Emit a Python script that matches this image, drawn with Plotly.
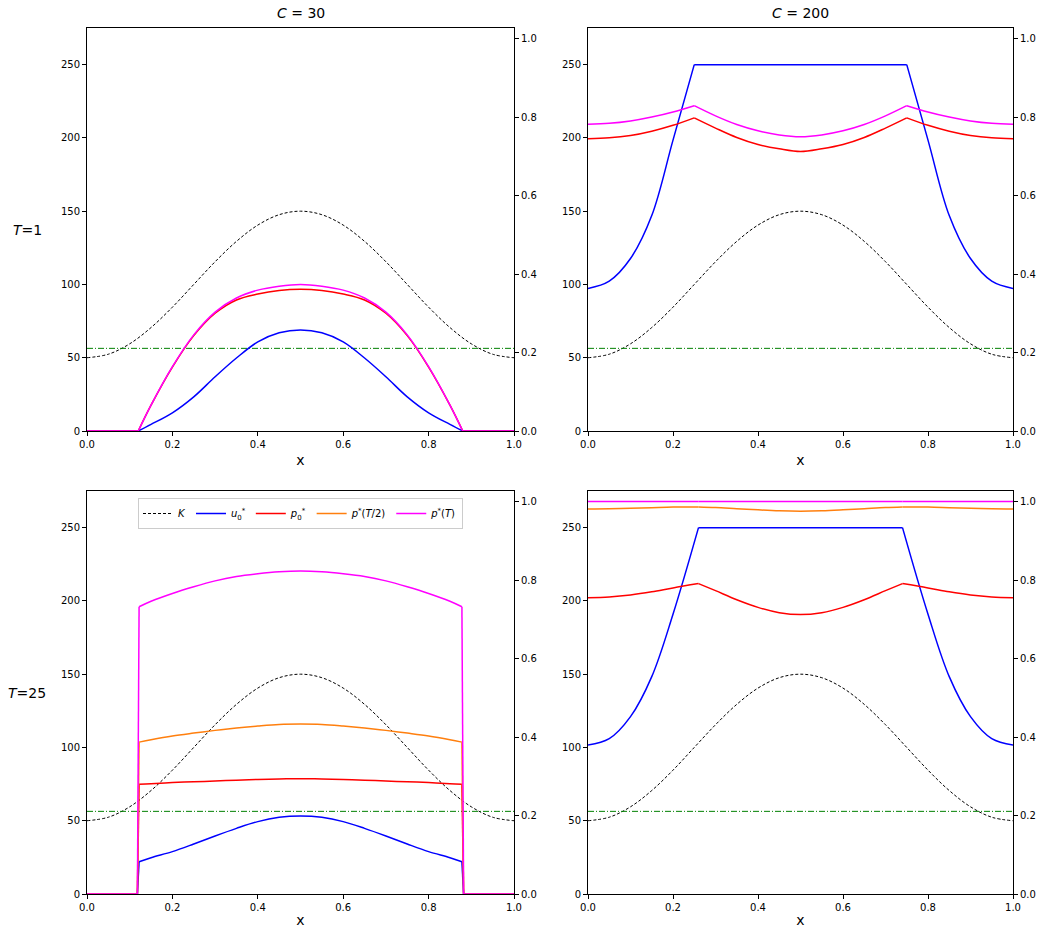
import plotly.graph_objects as go

# shared grid and the K profile
x_grid = [0.0, 0.05, 0.1, 0.15, 0.2, 0.25, 0.3, 0.35, 0.4, 0.45, 0.5,
          0.55, 0.6, 0.65, 0.7, 0.75, 0.8, 0.85, 0.9, 0.95, 1.0]
K = [50, 52.4, 59.5, 70.6, 84.5, 100, 115.5, 129.4, 140.5, 147.6, 150,
     147.6, 140.5, 129.4, 115.5, 100, 84.5, 70.6, 59.5, 52.4, 50]
threshold = 56.4

# C=30, T=1
x_c30_t1 = [0.0, 0.05, 0.1, 0.12, 0.15, 0.2, 0.25, 0.3, 0.35, 0.4, 0.45, 0.5,
            0.55, 0.6, 0.65, 0.7, 0.75, 0.8, 0.85, 0.88, 0.9, 0.95, 1.0]
u0_c30_t1 = [0, 0, 0, 0, 4.5, 12.4, 23.3, 37, 49.8, 60.8, 67, 69,
             67, 60.8, 49.8, 37, 23.3, 12.4, 4.5, 0, 0, 0, 0]
p0_c30_t1 = [0, 0, 0, 0, 0.066, 0.163, 0.243, 0.300, 0.334, 0.349, 0.358, 0.361,
             0.358, 0.349, 0.334, 0.300, 0.243, 0.163, 0.066, 0, 0, 0, 0]
pT_c30_t1 = [0, 0, 0, 0, 0.066, 0.164, 0.245, 0.303, 0.339, 0.359, 0.369, 0.3735,
             0.369, 0.359, 0.339, 0.303, 0.245, 0.164, 0.066, 0, 0, 0, 0]

# C=200, T=1 (on x_grid)
u0_c200_t1 = [97.3, 102.3, 117.7, 147, 198.5, 250, 250, 250, 250, 250, 250,
              250, 250, 250, 250, 250, 198.5, 147, 117.7, 102.3, 97.3]
p0_c200_t1 = [0.745, 0.747, 0.753, 0.764, 0.779, 0.798, 0.772, 0.748, 0.730, 0.719, 0.712,
              0.719, 0.730, 0.748, 0.772, 0.798, 0.779, 0.764, 0.753, 0.747, 0.745]
pT_c200_t1 = [0.782, 0.784, 0.790, 0.800, 0.813, 0.829, 0.803, 0.781, 0.765, 0.7545, 0.750,
              0.7545, 0.765, 0.781, 0.803, 0.829, 0.813, 0.800, 0.790, 0.784, 0.782]

# C=30, T=25
x_c30_t25 = [0.0, 0.05, 0.1, 0.118, 0.122, 0.15, 0.2, 0.25, 0.3, 0.35, 0.4, 0.45, 0.5,
             0.55, 0.6, 0.65, 0.7, 0.75, 0.8, 0.85, 0.878, 0.882, 0.9, 0.95, 1.0]
u0_c30_t25 = [0, 0, 0, 0, 22.0, 24.8, 28.9, 34.1, 39.6, 44.8, 49.4, 52.3, 53.2,
              52.3, 49.4, 44.8, 39.6, 34.1, 28.9, 24.8, 22.0, 0, 0, 0, 0]
p0_c30_t25 = [0, 0, 0, 0, 0.280, 0.281, 0.284, 0.286, 0.288, 0.290, 0.292, 0.293, 0.294,
              0.293, 0.292, 0.290, 0.288, 0.286, 0.284, 0.281, 0.280, 0, 0, 0, 0]
pH_c30_t25 = [0, 0, 0, 0, 0.387, 0.393, 0.4025, 0.410, 0.417, 0.423, 0.428, 0.432, 0.433,
              0.432, 0.428, 0.423, 0.417, 0.410, 0.4025, 0.393, 0.387, 0, 0, 0, 0]
pT_c30_t25 = [0, 0, 0, 0, 0.732, 0.746, 0.766, 0.783, 0.798, 0.809, 0.816, 0.821, 0.823,
              0.821, 0.816, 0.809, 0.798, 0.783, 0.766, 0.746, 0.732, 0, 0, 0, 0]

# C=200, T=25
x_c200_t25 = [0.0, 0.05, 0.1, 0.15, 0.2, 0.26, 0.3, 0.35, 0.4, 0.45, 0.5,
              0.55, 0.6, 0.65, 0.7, 0.74, 0.8, 0.85, 0.9, 0.95, 1.0]
u0_c200_t25 = [101.7, 106, 121, 148.3, 190.9, 250, 250, 250, 250, 250, 250,
               250, 250, 250, 250, 250, 190.9, 148.3, 121, 106, 101.7]
p0_c200_t25 = [0.755, 0.757, 0.762, 0.770, 0.780, 0.791, 0.773, 0.750, 0.7305, 0.717, 0.712,
               0.717, 0.7305, 0.750, 0.773, 0.791, 0.780, 0.770, 0.762, 0.757, 0.755]
pH_c200_t25 = [0.981, 0.9815, 0.983, 0.9845, 0.986, 0.9865, 0.985, 0.982, 0.979, 0.9765, 0.9755,
               0.9765, 0.979, 0.982, 0.985, 0.9865, 0.986, 0.9845, 0.983, 0.9815, 0.981]
pT_c200_t25 = [1.0] * 21

col_titles = ["<i>C</i> = 30", "<i>C</i> = 200"]
row_titles = ["<i>T</i>=1", "<i>T</i>=25"]

panels = [
    dict(x=x_c30_t1, kinks=[0.12, 0.88], u=u0_c30_t1, p0=p0_c30_t1, ph=None, pT=pT_c30_t1),
    dict(x=x_grid, kinks=[0.25, 0.75], u=u0_c200_t1, p0=p0_c200_t1, ph=None, pT=pT_c200_t1),
    dict(x=x_c30_t25, kinks=[0.118, 0.122, 0.878, 0.882], u=u0_c30_t25, p0=p0_c30_t25,
         ph=pH_c30_t25, pT=pT_c30_t25),
    dict(x=x_c200_t25, kinks=[0.26, 0.74], u=u0_c200_t25, p0=p0_c200_t25,
         ph=pH_c200_t25, pT=pT_c200_t25),
]

# the page body has an 8px margin, so the figure is a bit smaller and shifted
PAD = 8
W, H = 1044 - 2 * PAD, 936 - 2 * PAD


def px(X):
    return (X - PAD) / W


def py(Y):
    return 1 - (Y - PAD) / H


xdom = [(px(87), px(514)), (px(588), px(1013))]
ydom = [(py(431), py(28)), (py(894), py(491))]

font = "DejaVu Sans"
fig = go.Figure()
layout = {}


def add_series(x, y, kinks, xa, ya, color, name, width, dash, show, group):
    # smooth pieces between kink points, so corners stay sharp
    cuts = [0] + [i for i, v in enumerate(x) if v in kinks] + [len(x) - 1]
    first = True
    for a, b in zip(cuts[:-1], cuts[1:]):
        if b <= a:
            continue
        fig.add_trace(go.Scatter(
            x=x[a:b + 1], y=y[a:b + 1], xaxis=xa, yaxis=ya, mode="lines",
            line=dict(color=color, width=width, dash=dash, shape="spline", smoothing=1.0),
            name=name, legendgroup=group, showlegend=show and first, hoverinfo="skip"))
        first = False


for i, pan in enumerate(panels):
    r, c = divmod(i, 2)
    xa = "x" if i == 0 else f"x{i + 1}"
    yl = "y" if i == 0 else f"y{i + 1}"
    yr = f"y{i + 5}"
    leg = (i == 2)

    add_series(x_grid, K, [], xa, yl, "black", "<i>K</i>", 1, "3px,2px", leg, "K")
    fig.add_trace(go.Scatter(x=[x_grid[0], x_grid[-1]], y=[threshold, threshold],
                             xaxis=xa, yaxis=yl, mode="lines",
                             line=dict(color="#008000", width=1, dash="6px,2px,1px,2px"),
                             showlegend=False, hoverinfo="skip"))
    add_series(pan["x"], pan["u"], pan["kinks"], xa, yl, "#0000ff",
               "<i>u</i><sub>0</sub><sup>*</sup>", 1.5, "solid", leg, "u")
    add_series(pan["x"], pan["p0"], pan["kinks"], xa, yr, "#ff0000",
               "<i>p</i><sub>0</sub><sup>*</sup>", 1.5, "solid", leg, "p0")
    if pan["ph"] is not None:
        add_series(pan["x"], pan["ph"], pan["kinks"], xa, yr, "#ff7f0e",
                   "<i>p</i><sup>*</sup>(<i>T</i>/2)", 1.5, "solid", leg, "ph")
    add_series(pan["x"], pan["pT"], pan["kinks"], xa, yr, "#ff00ff",
               "<i>p</i><sup>*</sup>(<i>T</i>)", 1.5, "solid", leg, "pT")

    common = dict(showgrid=False, zeroline=False, showline=True, linecolor="black",
                  linewidth=1, ticks="outside", ticklen=4, tickcolor="black",
                  automargin=False,
                  tickfont=dict(size=10, color="black", family=font))
    layout["xaxis" if i == 0 else f"xaxis{i + 1}"] = dict(
        domain=xdom[c], anchor=yl, range=[0, 1], mirror=True,
        tickvals=[0, 0.2, 0.4, 0.6, 0.8, 1.0], tickformat=".1f",
        title=dict(text="x", font=dict(size=14, family=font, color="black"), standoff=6),
        **common)
    layout["yaxis" if i == 0 else f"yaxis{i + 1}"] = dict(
        domain=ydom[r], anchor=xa, range=[0, 275],
        tickvals=[0, 50, 100, 150, 200, 250], **common)
    layout[f"yaxis{i + 5}"] = dict(
        domain=ydom[r], anchor=xa, overlaying=yl, side="right", range=[0, 1.027],
        tickvals=[0, 0.2, 0.4, 0.6, 0.8, 1.0], tickformat=".1f", **common)

annotations = []
for c in range(2):
    annotations.append(dict(text=col_titles[c], x=sum(xdom[c]) / 2, y=py(23),
                            xref="paper", yref="paper", showarrow=False,
                            xanchor="center", yanchor="bottom",
                            font=dict(size=14, family=font, color="black")))
for r in range(2):
    annotations.append(dict(text=row_titles[r], x=px(27), y=sum(ydom[r]) / 2,
                            xref="paper", yref="paper", showarrow=False,
                            xanchor="center", yanchor="middle",
                            font=dict(size=14, family=font, color="black")))

fig.update_layout(
    width=W, height=H, margin=dict(l=0, r=0, t=0, b=0, autoexpand=False),
    paper_bgcolor="white", plot_bgcolor="white",
    font=dict(family=font, color="black"),
    annotations=annotations,
    legend=dict(orientation="h", x=sum(xdom[0]) / 2, xanchor="center",
                y=py(498), yanchor="top", bgcolor="white",
                bordercolor="#cccccc", borderwidth=1, itemwidth=30,
                font=dict(size=10, family=font, color="black")),
    **layout,
)

fig.write_html("out.html")
